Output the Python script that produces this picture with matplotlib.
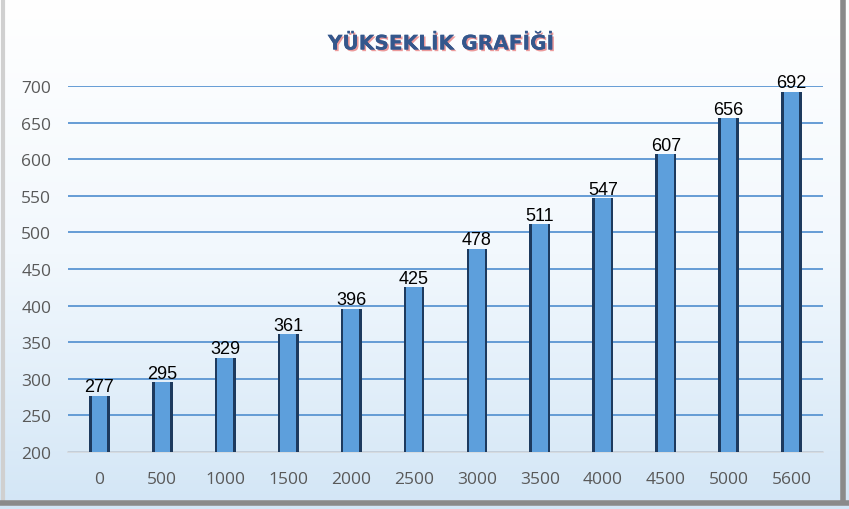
"""
Yükseklik grafiği — sütun grafik, açık mavi gradyan arka plan.
"""
import numpy as np
import matplotlib.pyplot as plt
import matplotlib.patheffects as pe
from matplotlib.colors import LinearSegmentedColormap

categories = ["0", "500", "1000", "1500", "2000", "2500", "3000",
              "3500", "4000", "4500", "5000", "5600"]
values = [277, 295, 329, 361, 396, 425, 478, 511, 547, 607, 656, 692]
yticks = [200, 250, 300, 350, 400, 450, 500, 550, 600, 650, 700]

fig = plt.figure(figsize=(8.49, 5.10), dpi=100)

# gradient background over whole figure
bg = fig.add_axes([0, 0, 1, 1], zorder=-10)
grad = np.linspace(0, 1, 256).reshape(-1, 1)
cmap = LinearSegmentedColormap.from_list("bg", ["#ffffff", "#f2f8fd", "#d3e6f6"])
bg.imshow(grad, aspect="auto", cmap=cmap, extent=[0, 1, 0, 1], origin="upper")
bg.set_xlim(0, 1)
bg.set_ylim(0, 1)
# frame shadow on left, right and bottom
bg.plot([0.004, 0.004], [0.02, 1], color="#d0d0d0", lw=3)
bg.plot([0.993, 0.993], [0.02, 1], color="#8a8a8a", lw=4)
bg.plot([0.0, 1.0], [0.012, 0.012], color="#8a8a8a", lw=4)
bg.axis("off")

ax = fig.add_axes([68 / 849, 1 - 453 / 510, (823 - 68) / 849, (453 - 87) / 510])
ax.patch.set_alpha(0)

x = np.arange(len(categories))
heights = [v - 200 for v in values]
# dark outer bar + lighter inner bar -> dark sides only
ax.bar(x, heights, bottom=200, width=0.33, color="#1d3a5e", zorder=3)
ax.bar(x, heights, bottom=200, width=0.25, color="#5d9fdc", zorder=3)

for xi, v in zip(x, values):
    ax.text(xi, v + 0.5, str(v), ha="center", va="bottom", fontsize=13,
            family="Liberation Sans", color="black", zorder=4)

ax.set_xlim(-0.5, len(categories) - 0.5)
ax.set_ylim(200, 700)
ax.set_yticks(yticks)
ax.set_xticks(x)
ax.set_xticklabels(categories)
ax.yaxis.grid(True, color="#5a95d2", linewidth=1.3, zorder=0)
ax.set_axisbelow(True)
for s in ["top", "right", "left"]:
    ax.spines[s].set_visible(False)
ax.spines["bottom"].set_color("#d6d9dc")
ax.spines["bottom"].set_linewidth(1.2)
ax.tick_params(axis="y", length=0, pad=12, labelsize=12.5, labelcolor="#595959")
ax.tick_params(axis="x", length=0, pad=14, labelsize=12.5, labelcolor="#595959")
for lab in ax.get_xticklabels() + ax.get_yticklabels():
    lab.set_family("Open Sans")

fig.text(441 / 849, 1 - 45 / 510, "YÜKSEKLİK GRAFİĞİ", ha="center", va="center",
         fontsize=14.5, fontweight="bold", color="#34578c",
         path_effects=[pe.withSimplePatchShadow(offset=(1.2, -1.2), shadow_rgbFace="#e04848", alpha=0.55),
                       pe.Normal()])

fig.savefig("out.png", dpi=100)
